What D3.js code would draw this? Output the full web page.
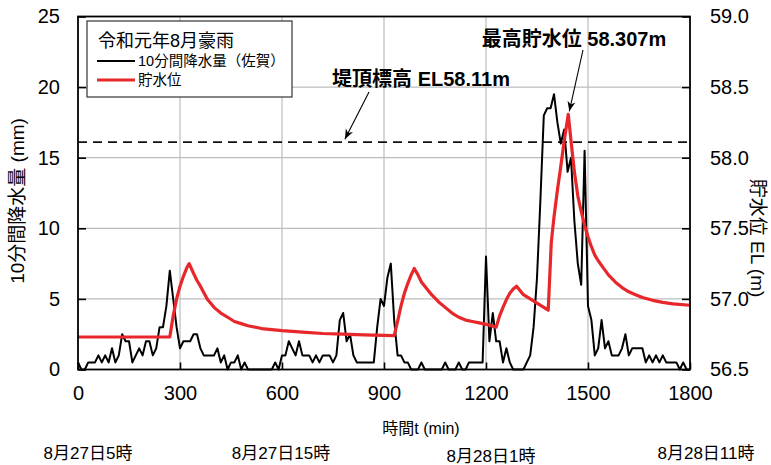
<!DOCTYPE html>
<html>
<head>
<meta charset="utf-8">
<script src="https://cdn.jsdelivr.net/npm/d3@7"></script>
<style>
  html, body { margin: 0; padding: 0; background: #fff; }
  svg { display: block; }
  text { font-family: "Liberation Sans", "Noto Sans CJK JP", sans-serif; fill: #000; }
</style>
</head>
<body>
<svg id="chart" width="771" height="465"></svg>
<script>
// 10-minute rainfall at Saga (mm), t = 0, 10, ..., 1800 min
const rainTimes = d3.range(0, 1801, 10);
const rainfall = [
  0.5, 0, 0, 0.5, 0.5, 0.5, 1.0, 0.5, 1.0, 0.5,
  1.5, 0.5, 1.0, 2.5, 2.0, 2.0, 0.5, 1.0, 1.5, 1.0,
  2.0, 2.0, 1.0, 1.5, 3.0, 3.0, 4.5, 7.0, 5.0, 3.0,
  1.5, 2.0, 2.0, 2.0, 2.5, 2.5, 1.5, 1.0, 1.0, 1.0,
  1.0, 1.5, 0.5, 1.0, 0, 0.5, 0.5, 1.0, 0, 0.5,
  0, 0, 0, 0, 0, 0, 0, 0, 0.5, 0,
  1.0, 1.0, 2.0, 1.5, 1.0, 2.0, 1.0, 1.0, 1.0, 0.5,
  1.0, 0.5, 1.0, 1.0, 1.0, 0.5, 1.0, 3.5, 4.0, 2.0,
  2.5, 1.0, 0.5, 0.5, 0.5, 0.5, 0.5, 0.5, 3.0, 5.0,
  4.5, 6.5, 7.5, 3.5, 1.0, 1.0, 0.5, 0.5, 0, 0,
  0, 0.5, 0, 0, 0, 0, 0, 0, 0.5, 0,
  0, 0, 0.5, 0, 0, 0.5, 0.5, 0.5, 0.5, 0.5,
  8.0, 2.0, 4.0, 2.0, 2.0, 0.5, 1.5, 0.5, 0, 0,
  0, 0, 0.5, 1.0, 3.0, 6.5, 12.0, 18.0, 18.5, 18.5,
  19.5, 17.5, 16.0, 17.0, 14.0, 15.0, 10.5, 7.5, 6.0, 15.5,
  4.5, 3.5, 1.0, 1.5, 3.5, 1.5, 2.0, 1.0, 1.0, 1.0,
  1.5, 2.5, 1.0, 1.5, 1.5, 1.5, 1.5, 0.5, 1.0, 0.5,
  1.0, 0.5, 1.0, 0.5, 0.5, 0.5, 0.5, 0, 0.5, 0,
  0
];

// Reservoir water level (EL m)
const levelTimes = [
  0, 270, 280, 290, 300, 310, 320, 327, 340, 350, 360, 380, 400, 420, 440, 460, 480, 500,
  540, 600, 660, 720, 780, 840, 930, 940, 950, 960, 970, 980, 989, 1000, 1010, 1020,
  1040, 1060, 1080, 1100, 1120, 1140, 1160, 1180, 1200, 1230, 1240, 1250, 1260, 1270,
  1280, 1290, 1300, 1310, 1330, 1350, 1370, 1383, 1392, 1400, 1410, 1420, 1430, 1442,
  1450, 1460, 1470, 1480, 1490, 1500, 1510, 1520, 1530, 1545, 1560, 1580, 1600, 1620,
  1640, 1660, 1690, 1720, 1750, 1800
];
const waterLevel = [
  56.73, 56.73, 56.88, 57.00, 57.09, 57.16, 57.22, 57.25, 57.18, 57.13, 57.09, 57.00, 56.94, 56.90, 56.87, 56.84, 56.825, 56.81,
  56.79, 56.775, 56.765, 56.755, 56.75, 56.745, 56.74, 56.84, 56.95, 57.04, 57.11, 57.17, 57.215, 57.17, 57.12, 57.09,
  57.03, 56.98, 56.94, 56.90, 56.87, 56.85, 56.84, 56.83, 56.82, 56.80, 56.88, 56.94, 56.995, 57.04,
  57.07, 57.09, 57.06, 57.03, 57.00, 56.97, 56.94, 56.92, 57.40, 57.58, 57.77, 57.94, 58.12, 58.307,
  58.12, 57.90, 57.73, 57.62, 57.52, 57.44, 57.37, 57.31, 57.27, 57.22, 57.17, 57.12, 57.08, 57.05,
  57.03, 57.01, 56.99, 56.975, 56.965, 56.955
];

const crestLevel = 58.11;
const peakLevel = 58.307;
const peakTime = 1442;

const xTicks = [0, 300, 600, 900, 1200, 1500, 1800];
const rainTicks = [0, 5, 10, 15, 20, 25];
const levelTicks = [56.5, 57.0, 57.5, 58.0, 58.5, 59.0];
const dateLabels = ["8月27日5時", "8月27日15時", "8月28日1時", "8月28日11時"];

const svg = d3.select("#chart");
const plotLeft = 78, plotRight = 690, plotTop = 16.5, plotBottom = 369.5;

const x = d3.scaleLinear().domain([0, 1800]).range([plotLeft, plotRight]);
const yRain = d3.scaleLinear().domain([0, 25]).range([plotBottom, plotTop]);
const yLevel = d3.scaleLinear().domain([56.5, 59.0]).range([plotBottom, plotTop]);

// grid
const grid = svg.append("g").attr("stroke", "#bdbdbd").attr("stroke-width", 1.2);
xTicks.slice(1, -1).forEach(t => {
  grid.append("line").attr("x1", x(t)).attr("x2", x(t)).attr("y1", plotTop).attr("y2", plotBottom);
});
rainTicks.slice(1, -1).forEach(v => {
  grid.append("line").attr("x1", plotLeft).attr("x2", plotRight).attr("y1", yRain(v)).attr("y2", yRain(v));
});

// crest level (dashed)
svg.append("line")
  .attr("x1", plotLeft).attr("x2", plotRight)
  .attr("y1", yLevel(crestLevel)).attr("y2", yLevel(crestLevel))
  .attr("stroke", "#111").attr("stroke-width", 1.6).attr("stroke-dasharray", "9,6");

// rainfall line
const rainLine = d3.line().x((d, i) => x(rainTimes[i])).y(d => yRain(d));
svg.append("path").datum(rainfall)
  .attr("d", rainLine)
  .attr("fill", "none").attr("stroke", "#000").attr("stroke-width", 2).attr("stroke-linejoin", "round");

// water level line
const levelLine = d3.line().x((d, i) => x(levelTimes[i])).y(d => yLevel(d));
svg.append("path").datum(waterLevel)
  .attr("d", levelLine)
  .attr("fill", "none").attr("stroke", "#e8272b").attr("stroke-width", 3.2).attr("stroke-linejoin", "round");

// axes (inward ticks)
const axisStyle = g => {
  g.select(".domain").remove();
  g.selectAll(".tick line").attr("stroke", "#000").attr("stroke-width", 1.6);
  g.selectAll(".tick text").style("font-size", "20px").attr("fill", "#000");
};
svg.append("g").attr("transform", `translate(${plotLeft},0)`)
  .call(d3.axisLeft(yRain).tickValues(rainTicks).tickSize(-8).tickPadding(18).tickFormat(d3.format("d")))
  .call(axisStyle);
svg.append("g").attr("transform", `translate(${plotRight},0)`)
  .call(d3.axisRight(yLevel).tickValues(levelTicks).tickSize(-8).tickPadding(20).tickFormat(d3.format(".1f")))
  .call(axisStyle);
svg.append("g").attr("transform", `translate(0,${plotBottom})`)
  .call(d3.axisBottom(x).tickValues(xTicks).tickSize(-7).tickPadding(16).tickFormat(d3.format("d")))
  .call(axisStyle);

// frame
svg.append("rect")
  .attr("x", plotLeft).attr("y", plotTop).attr("width", plotRight - plotLeft).attr("height", plotBottom - plotTop)
  .attr("fill", "none").attr("stroke", "#000").attr("stroke-width", 1.8);

// axis titles
svg.append("text")
  .attr("transform", `translate(24,${(plotTop + plotBottom) / 2 + 8}) rotate(-90)`)
  .attr("text-anchor", "middle").style("font-size", "19px")
  .text("10分間降水量 (mm)");
svg.append("text")
  .attr("transform", `translate(751,${(plotTop + plotBottom) / 2 + 45}) rotate(90)`)
  .attr("text-anchor", "middle").style("font-size", "19px")
  .text("貯水位 EL (m)");
svg.append("text")
  .attr("x", 421).attr("y", 434).attr("text-anchor", "middle").style("font-size", "16px")
  .text("時間t (min)");

// date labels under the time axis
const dateX = [88, 281, 491, 706];
const dateY = [459, 459, 462, 459];
dateLabels.forEach((s, i) => {
  svg.append("text").attr("x", dateX[i]).attr("y", dateY[i]).attr("text-anchor", "middle")
    .style("font-size", "17px").text(s);
});

// legend
const lg = svg.append("g");
lg.append("rect").attr("x", 87).attr("y", 21).attr("width", 205).attr("height", 76)
  .attr("fill", "#fff").attr("stroke", "#333").attr("stroke-width", 1.2);
lg.append("text").attr("x", 98).attr("y", 47).style("font-size", "18px").text("令和元年8月豪雨");
lg.append("line").attr("x1", 97).attr("x2", 135).attr("y1", 61).attr("y2", 61)
  .attr("stroke", "#000").attr("stroke-width", 2);
lg.append("text").attr("x", 138).attr("y", 66).style("font-size", "14.5px").text("10分間降水量（佐賀）");
lg.append("line").attr("x1", 97).attr("x2", 135).attr("y1", 80).attr("y2", 80)
  .attr("stroke", "#e8272b").attr("stroke-width", 3.2);
lg.append("text").attr("x", 138).attr("y", 85).style("font-size", "14.5px").text("貯水位");

// annotations
const defs = svg.append("defs");
defs.append("marker").attr("id", "arrow").attr("viewBox", "0 0 10 10")
  .attr("refX", 10).attr("refY", 5).attr("markerWidth", 10).attr("markerHeight", 10)
  .attr("markerUnits", "userSpaceOnUse").attr("orient", "auto")
  .append("path").attr("d", "M0,1 L10,5 L0,9 L3,5 Z").attr("fill", "#000");

svg.append("text").attr("x", 421).attr("y", 86).attr("text-anchor", "middle")
  .style("font-size", "20px").style("font-weight", "bold")
  .text("堤頂標高 EL58.11m");
svg.append("line")
  .attr("x1", 369).attr("y1", 92)
  .attr("x2", x(785)).attr("y2", yLevel(crestLevel) - 3)
  .attr("stroke", "#000").attr("stroke-width", 1.1).attr("marker-end", "url(#arrow)");

svg.append("text").attr("x", 574).attr("y", 46).attr("text-anchor", "middle")
  .style("font-size", "20px").style("font-weight", "bold")
  .text("最高貯水位 58.307m");
svg.append("line")
  .attr("x1", 583).attr("y1", 50)
  .attr("x2", x(peakTime) + 1).attr("y2", yLevel(peakLevel) - 3)
  .attr("stroke", "#000").attr("stroke-width", 1.1).attr("marker-end", "url(#arrow)");
</script>
</body>
</html>
